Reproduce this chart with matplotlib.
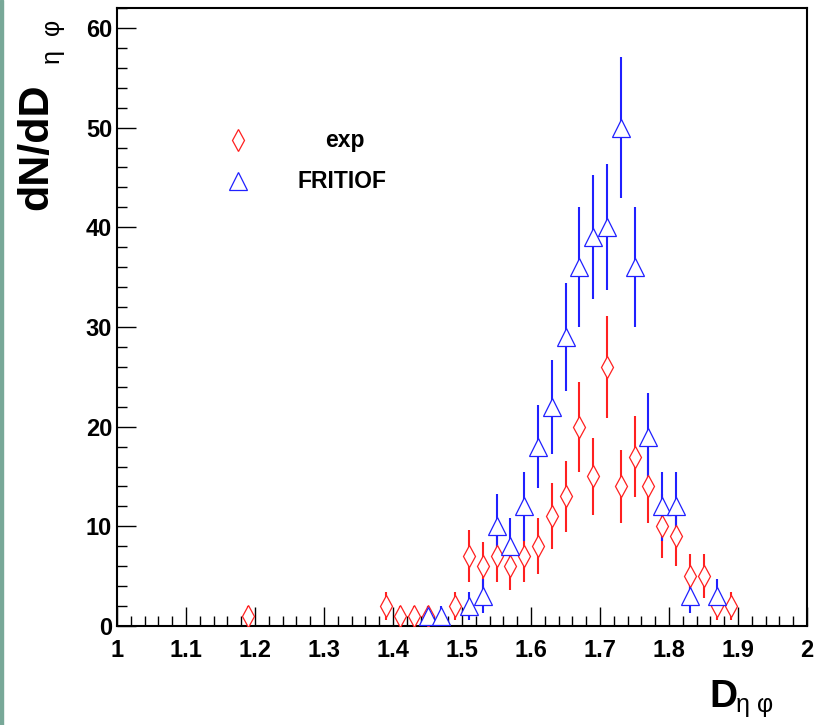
import numpy as np
import matplotlib
matplotlib.use("Agg")
import matplotlib.pyplot as plt
from matplotlib.ticker import MultipleLocator
from matplotlib.patches import Rectangle

plt.rcParams['font.family'] = ['Liberation Sans', 'DejaVu Sans']

# experimental data
exp_x = [1.19, 1.39, 1.41, 1.43, 1.45, 1.49, 1.51, 1.53, 1.55, 1.57, 1.59, 1.61,
         1.63, 1.65, 1.67, 1.69, 1.71, 1.73, 1.75, 1.77, 1.79, 1.81, 1.83, 1.85,
         1.87, 1.89]
exp_y = [1, 2, 1, 1, 1, 2, 7, 6, 7, 6, 7, 8,
         11, 13, 20, 15, 26, 14, 17, 14, 10, 9, 5, 5,
         2, 2]
exp_err = [1.0, 1.4, 1.0, 1.0, 1.0, 1.4, 2.6, 2.4, 2.6, 2.4, 2.6, 2.8,
           3.3, 3.6, 4.5, 3.9, 5.1, 3.7, 4.1, 3.7, 3.2, 3.0, 2.2, 2.2,
           1.4, 1.4]

# FRITIOF model
fri_x = [1.45, 1.47, 1.51, 1.53, 1.55, 1.57, 1.59, 1.61, 1.63, 1.65, 1.67,
         1.69, 1.71, 1.73, 1.75, 1.77, 1.79, 1.81, 1.83, 1.87]
fri_y = [1, 1, 2, 3, 10, 8, 12, 18, 22, 29, 36,
         39, 40, 50, 36, 19, 12, 12, 3, 3]
fri_err = [1.0, 1.0, 1.4, 1.7, 3.2, 2.8, 3.5, 4.2, 4.7, 5.4, 6.0,
           6.2, 6.3, 7.1, 6.0, 4.4, 3.5, 3.5, 1.7, 1.7]

xtick_labels = ['1', '1.1', '1.2', '1.3', '1.4', '1.5', '1.6', '1.7', '1.8', '1.9', '2']

W, H = 819, 725
fig = plt.figure(figsize=(W / 100, H / 100), dpi=100)
ax = fig.add_axes([117 / W, 1 - 626 / H, 690 / W, 618 / H])

ax.errorbar(exp_x, exp_y, yerr=exp_err, fmt='none', ecolor='#ff2020', elinewidth=1.5, zorder=2)
ax.errorbar(fri_x, fri_y, yerr=fri_err, fmt='none', ecolor='#2020ff', elinewidth=1.5, zorder=2)
ax.plot(exp_x, exp_y, ls='none', marker='d', ms=11, mfc='white', mec='#ff2020', mew=0.9, zorder=3)
ax.plot(fri_x, fri_y, ls='none', marker='^', ms=13, mfc='white', mec='#2020ff', mew=0.9, zorder=4)

ax.set_xlim(1, 2)
ax.set_ylim(0, 62)
ax.set_xticks(np.linspace(1, 2, 11))
ax.set_xticklabels(xtick_labels)
ax.xaxis.set_minor_locator(MultipleLocator(0.02))
ax.yaxis.set_major_locator(MultipleLocator(10))
ax.yaxis.set_minor_locator(MultipleLocator(2))

ax.tick_params(which='both', direction='in', top=False, right=False, width=1, color='black')
ax.tick_params(which='major', length=14)
ax.tick_params(which='minor', length=7)
ax.tick_params(axis='x', which='major', pad=9.5, labelsize=17)
ax.tick_params(axis='y', which='major', pad=3.5, labelsize=17)
for lab in ax.get_xticklabels() + ax.get_yticklabels():
    lab.set_fontweight('bold')
for sp in ax.spines.values():
    sp.set_linewidth(1.5)

# legend drawn by hand, ROOT style
ax.plot([(238 - 117) / 690], [(626 - 140) / 618], transform=ax.transAxes, ls='none', marker='d',
        ms=11, mfc='white', mec='#ff2020', mew=0.9, clip_on=False)
ax.plot([(238 - 117) / 690], [(626 - 181) / 618], transform=ax.transAxes, ls='none', marker='^',
        ms=13, mfc='white', mec='#2020ff', mew=0.9, clip_on=False)
fig.text(345 / W, 1 - 140 / H, 'exp', ha='center', va='center', fontsize=16.5, fontweight='bold')
fig.text(342 / W, 1 - 181 / H, 'FRITIOF', ha='center', va='center', fontsize=16.5, fontweight='bold')

# x axis title
fig.text(709 / W, 1 - 707 / H, 'D', ha='left', va='baseline', fontsize=28, fontweight='bold')
fig.text(736 / W, 1 - 712 / H, 'η φ', ha='left', va='baseline', fontsize=18)

# y axis title
fig.text(47 / W, 1 - 210 / H, 'dN/dD', ha='left', va='baseline', rotation=90,
         rotation_mode='anchor', fontsize=31, fontweight='bold')
fig.text(60 / W, 1 - 20 / H, 'η  φ', ha='right', va='baseline', rotation=90,
         rotation_mode='anchor', fontsize=18)

# thin frame strip on the left edge
fig.patches.append(Rectangle((0, 0), 2.5 / W, 1, transform=fig.transFigure,
                             color='#78a898', zorder=0))

fig.savefig('out.png', dpi=100)
